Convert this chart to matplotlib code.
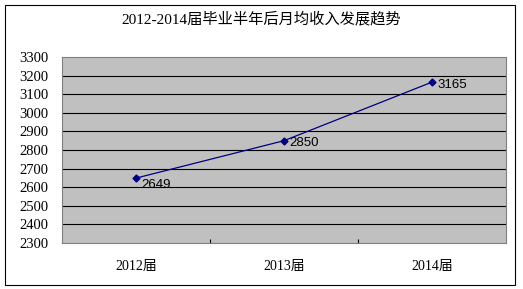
import matplotlib.pyplot as plt
from matplotlib.patches import Rectangle

plt.rcParams['font.family'] = ['Noto Sans CJK SC', 'DejaVu Sans']

# data
years = ['2012届', '2013届', '2014届']
income = [2649, 2850, 3165]
title = '2012-2014届毕业半年后月均收入发展趋势'
yticks = list(range(2300, 3301, 100))

serif_cjk = ['Liberation Serif', 'Noto Sans CJK SC']

fig = plt.figure(figsize=(5.23, 2.89), dpi=100)
W, H = 523, 289
# outer chart border
fig.patches.append(Rectangle((5 / W, 4 / H), 510 / W, 280 / H, transform=fig.transFigure,
                             fill=False, edgecolor='black', linewidth=0.8))

ax = fig.add_axes([62 / W, 1 - 243 / H, 444 / W, 186 / H])
ax.set_facecolor('#C0C0C0')
for s in ax.spines.values():
    s.set_color('#808080')
    s.set_linewidth(0.8)

x = list(range(len(years)))
ax.plot(x, income, color='#000080', linewidth=0.9, marker='D', markersize=3.5)
for xi, v in zip(x, income):
    dy = -5 if xi == 0 else -2
    ax.annotate(str(v), (xi, v), xytext=(4, dy), textcoords='offset points',
                ha='left', va='center', fontsize=9.5, family='Liberation Sans')

ax.set_xlim(-0.5, 2.5)
ax.set_ylim(2300, 3300)
ax.set_yticks(yticks)
ax.set_yticklabels([str(t) for t in yticks], fontfamily='Liberation Serif', fontsize=10.5)
for yv in yticks[1:-1]:
    ax.axhline(yv, color='black', linewidth=0.8, zorder=0.5)
ax.set_xticks([0.5, 1.5])
ax.set_xticklabels([])
ax.tick_params(axis='x', direction='in', length=3, color='black')
ax.tick_params(axis='y', length=0, pad=10)
for xi, name in zip(x, years):
    ax.text(xi, 2300 - 1000 * 17 / 186, name, ha='center', va='top',
            fontsize=10, family=serif_cjk)

fig.text(0.5, 1 - 19 / H, title, ha='center', va='center', fontsize=11, family=serif_cjk)

fig.savefig('out.png', dpi=100)
